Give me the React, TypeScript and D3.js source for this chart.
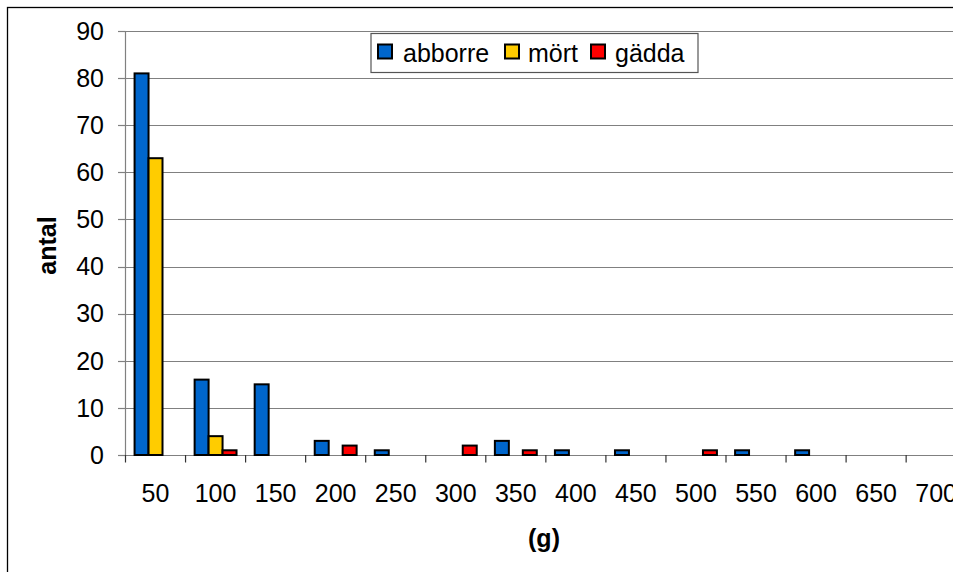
import React from "react";
import * as d3 from "d3";

const categories = ["50", "100", "150", "200", "250", "300", "350", "400", "450", "500", "550", "600", "650", "700"];
const seriesNames = ["abborre", "mört", "gädda"];
const abborre = [81, 16, 15, 3, 1, 0, 3, 1, 1, 0, 1, 1, 0, 0];
const mort = [63, 4, 0, 0, 0, 0, 0, 0, 0, 0, 0, 0, 0, 0];
const gadda = [0, 1, 0, 2, 0, 2, 1, 0, 0, 1, 0, 0, 0, 0];
const seriesColors = ["#0066CC", "#FFCC00", "#FF0000"];
const yTicks = [0, 10, 20, 30, 40, 50, 60, 70, 80, 90];

const FONT = "'Liberation Sans', Arial, sans-serif";

export default function App() {
  const W = 953;
  const H = 572;
  const x0 = 125.5;
  const step = 60.05;
  const x = d3.scaleBand<string>().domain(categories).range([x0, x0 + step * categories.length]).paddingInner(0).paddingOuter(0);
  const xs = d3.scaleBand<string>().domain(seriesNames).range([0, x.bandwidth()]).paddingInner(0).paddingOuter(0.65);
  const y = d3.scaleLinear().domain([0, 90]).range([455, 31]);
  const data = [abborre, mort, gadda];

  return (
    <svg width={W} height={H} style={{ position: "absolute", left: 0, top: 0, background: "#fff" }} fontFamily={FONT}>
      <rect x={0} y={0} width={W} height={H} fill="#fff" />
      {/* outer chart border */}
      <rect x={7.5} y={7.5} width={W + 20} height={H + 20} fill="none" stroke="#000" strokeWidth={1.3} />
      {/* gridlines */}
      {yTicks.map((t) => (
        <line key={"g" + t} x1={x0} x2={W + 5} y1={Math.round(y(t)) + 0.5} y2={Math.round(y(t)) + 0.5} stroke="#808080" strokeWidth={1.2} />
      ))}
      {/* y axis */}
      <line x1={x0} x2={x0} y1={y(90)} y2={y(0)} stroke="#808080" strokeWidth={1.2} />
      {yTicks.map((t) => (
        <g key={"yt" + t}>
          <line x1={118} x2={x0} y1={Math.round(y(t)) + 0.5} y2={Math.round(y(t)) + 0.5} stroke="#808080" strokeWidth={1.2} />
          <text x={104} y={y(t) + 8.8} textAnchor="end" fontSize={25} fill="#000">{t}</text>
        </g>
      ))}
      {/* x ticks */}
      {categories.map((c) => (
        <line key={"xt" + c} x1={x(c)!} x2={x(c)!} y1={y(0)} y2={y(0) + 7.5} stroke="#333" strokeWidth={1.2} />
      ))}
      {/* bars */}
      {data.map((vals, si) =>
        vals.map((v, ci) =>
          v > 0 ? (
            <rect
              key={si + "-" + ci}
              x={x(categories[ci])! + xs(seriesNames[si])!}
              y={y(v)}
              width={xs.bandwidth()}
              height={y(0) - y(v)}
              fill={seriesColors[si]}
              stroke="#000"
              strokeWidth={2}
            />
          ) : null
        )
      )}
      {/* x labels */}
      {categories.map((c) => (
        <text key={"xl" + c} x={x(c)! + x.bandwidth() / 2} y={502} textAnchor="middle" fontSize={25} fill="#000">{c}</text>
      ))}
      {/* axis titles */}
      <text transform="translate(56,245.5) rotate(-90)" textAnchor="middle" fontSize={25} fontWeight="bold" fill="#000">antal</text>
      <text x={544} y={547} textAnchor="middle" fontSize={25} fontWeight="bold" fill="#000">(g)</text>
      {/* legend */}
      <rect x={371} y={33.5} width={327} height={39} fill="#fff" stroke="#555" strokeWidth={1.2} />
      {[{ sx: 378, tx: 403 }, { sx: 505, tx: 528 }, { sx: 591, tx: 615 }].map((p, i) => (
        <g key={"lg" + i}>
          <rect x={p.sx} y={44.5} width={14} height={14} fill={seriesColors[i]} stroke="#000" strokeWidth={2} />
          <text x={p.tx} y={62} fontSize={25} fill="#000">{seriesNames[i]}</text>
        </g>
      ))}
    </svg>
  );
}
